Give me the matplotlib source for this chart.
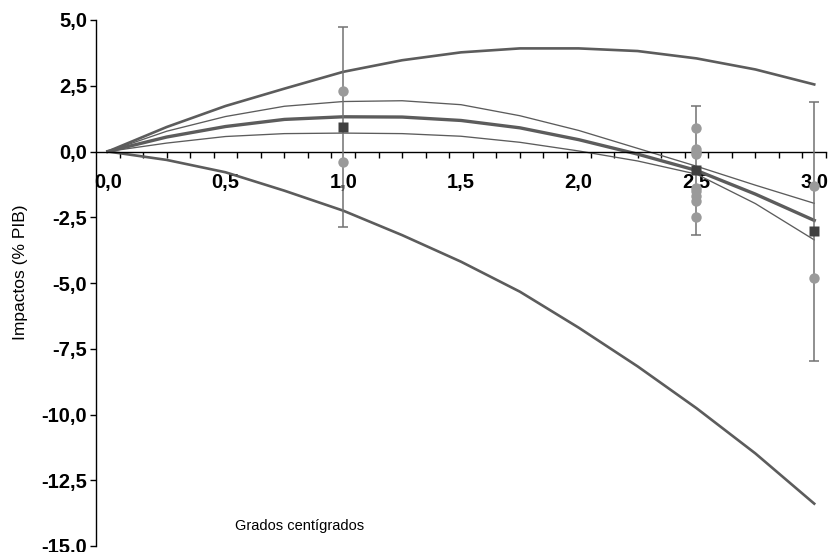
import numpy as np
import matplotlib
matplotlib.use("Agg")
import matplotlib.pyplot as plt
from matplotlib.ticker import FixedLocator, FixedFormatter

# ---- data ----
temp_grid = [0.0, 0.25, 0.5, 0.75, 1.0, 1.25, 1.5, 1.75, 2.0, 2.25, 2.5, 2.75, 3.0]
fit_mean = [0.0, 0.55, 0.95, 1.22, 1.32, 1.31, 1.18, 0.90, 0.45, -0.10, -0.72, -1.62, -2.62]
ci_upper = [0.0, 0.77, 1.33, 1.72, 1.90, 1.93, 1.78, 1.36, 0.80, 0.12, -0.56, -1.28, -1.97]
ci_lower = [0.0, 0.32, 0.57, 0.68, 0.70, 0.68, 0.58, 0.35, 0.02, -0.36, -0.86, -1.98, -3.36]
pi_upper = [0.0, 0.93, 1.73, 2.39, 3.03, 3.47, 3.77, 3.92, 3.92, 3.82, 3.54, 3.12, 2.55]
pi_lower = [0.0, -0.32, -0.79, -1.49, -2.25, -3.18, -4.19, -5.33, -6.70, -8.17, -9.76, -11.48, -13.39]

study_temp = [1.0, 1.0,
              2.5, 2.5, 2.5, 2.5, 2.5, 2.5, 2.5, 2.5, 2.5,
              3.0, 3.0]
study_impact = [2.3, -0.4,
                0.9, 0.1, 0.0, -0.1, -1.4, -1.5, -1.7, -1.9, -2.5,
                -1.3, -4.8]

mean_temp = [1.0, 2.5, 3.0]
mean_impact = [0.95, -0.72, -3.03]
bar_low = [-2.86, -3.17, -7.95]
bar_high = [4.74, 1.72, 1.88]

xtick_vals = [0.0, 0.5, 1.0, 1.5, 2.0, 2.5, 3.0]
xtick_labels = ["0,0", "0,5", "1,0", "1,5", "2,0", "2,5", "3,0"]
ytick_vals = [5.0, 2.5, 0.0, -2.5, -5.0, -7.5, -10.0, -12.5, -15.0]
ytick_labels = ["5,0", "2,5", "0,0", "-2,5", "-5,0", "-7,5", "-10,0", "-12,5", "-15,0"]

# ---- figure ----
plt.rcParams['font.family'] = ['Liberation Sans', 'DejaVu Sans']
fig = plt.figure(figsize=(8.32, 5.52), dpi=100)
ax = fig.add_axes([96/832, 1-546/552, 730/832, 526/552])

line_col = "#5c5c5c"
ax.plot(temp_grid, pi_upper, color=line_col, lw=1.9, zorder=2)
ax.plot(temp_grid, pi_lower, color=line_col, lw=1.9, zorder=2)
ax.plot(temp_grid, ci_upper, color=line_col, lw=0.95, zorder=2)
ax.plot(temp_grid, ci_lower, color=line_col, lw=0.95, zorder=2)
ax.plot(temp_grid, fit_mean, color=line_col, lw=2.4, zorder=2)

mi = np.array(mean_impact)
yerr = [mi - np.array(bar_low), np.array(bar_high) - mi]
ax.errorbar(mean_temp, mean_impact, yerr=yerr, fmt='none', ecolor="#727272",
            elinewidth=1.1, capsize=3.5, capthick=1.1, zorder=3)
ax.plot(study_temp, study_impact, 'o', color="#9a9a9a", ms=7.5, mec='none', zorder=4)
ax.plot(mean_temp, mean_impact, 's', color="#404040", ms=7.5, mec='none', zorder=5)

ax.set_xlim(-0.05, 3.05)
ax.set_ylim(-15, 5)

for s in ['top', 'right']:
    ax.spines[s].set_visible(False)
ax.spines['bottom'].set_position(('data', 0))
ax.spines['left'].set_linewidth(1.0)
ax.spines['bottom'].set_linewidth(1.0)

ax.xaxis.set_major_locator(FixedLocator(xtick_vals))
ax.xaxis.set_major_formatter(FixedFormatter(xtick_labels))
ax.xaxis.set_minor_locator(FixedLocator(np.round(np.arange(0.05, 3.06, 0.1), 2)))
ax.tick_params(axis='x', which='major', length=0, pad=15.5)
ax.tick_params(axis='x', which='minor', length=4.5, width=1.0, direction='out')
ax.yaxis.set_major_locator(FixedLocator(ytick_vals))
ax.yaxis.set_major_formatter(FixedFormatter(ytick_labels))
ax.tick_params(axis='y', which='major', length=4.5, width=1.0, direction='out', pad=2)
for lab in ax.get_xticklabels() + ax.get_yticklabels():
    lab.set_fontsize(14.5)
    lab.set_fontweight('bold')

ax.set_xlabel("Grados centígrados", fontsize=10.5, va='center')
ax.xaxis.set_label_coords(0.279, 0.038)
ax.set_ylabel("Impactos (% PIB)", fontsize=12.5, va='center')
ax.yaxis.set_label_coords(-0.103, 0.521)

fig.savefig("out.png", dpi=100)
